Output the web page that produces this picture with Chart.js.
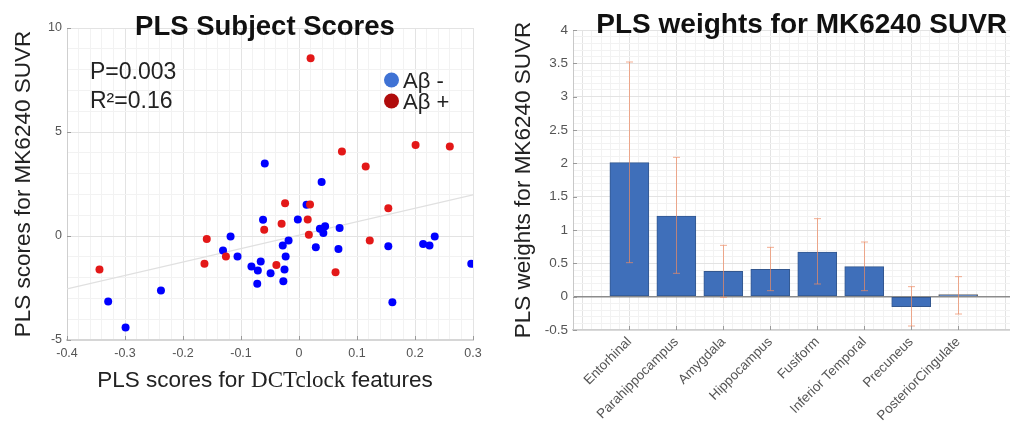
<!DOCTYPE html>
<html>
<head>
<meta charset="utf-8">
<script src="https://cdn.jsdelivr.net/npm/chart.js@4/dist/chart.umd.min.js"></script>
<style>
  html, body { margin: 0; padding: 0; background: #fff; overflow: hidden; width: 1010px; height: 432px; }
  #left { position: absolute; left: 0; top: 0; }
  #right { position: absolute; left: 500px; top: 0; }
</style>
</head>
<body>
<canvas id="left" width="500" height="432"></canvas>
<canvas id="right" width="530" height="432"></canvas>
<script>
// ---- subject scores: amyloid-negative group ----
const negX = [0.039, 0.013, -0.062, -0.002, -0.118, 0.036, 0.045, 0.042, 0.070, -0.018,
              -0.028, 0.029, 0.068, -0.131, -0.106, -0.023, -0.066, -0.082, -0.071, -0.025,
              -0.049, -0.072, -0.027, 0.154, 0.214, 0.225, 0.234, 0.297, 0.161, -0.238,
              -0.329, -0.299, -0.059];
const negY = [2.60, 1.50, 0.78, 0.79, -0.02, 0.35, 0.47, 0.15, 0.38, -0.22,
              -0.46, -0.54, -0.62, -0.70, -0.99, -0.99, -1.23, -1.47, -1.66, -1.61,
              -1.79, -2.30, -2.17, -0.49, -0.38, -0.46, -0.02, -1.34, -3.18, -2.62,
              -3.15, -4.40, 3.49];

// ---- subject scores: amyloid-positive group ----
const posX = [0.020, 0.074, 0.115, 0.201, 0.260, -0.024, 0.019, 0.154, -0.030, -0.060,
              0.015, 0.017, -0.159, 0.122, -0.126, -0.163, -0.039, 0.063, -0.344];
const posY = [8.55, 4.06, 3.34, 4.38, 4.30, 1.58, 1.51, 1.34, 0.59, 0.30,
              0.79, 0.06, -0.14, -0.22, -0.99, -1.34, -1.39, -1.74, -1.61];

// ---- least-squares fit line end points ----
const fitX = [-0.4, 0.3];
const fitY = [-2.54, 1.98];

// ---- regional PLS weights with their intervals ----
const regions = ['Entorhinal', 'Parahippocampus', 'Amygdala', 'Hippocampus',
                 'Fusiform', 'Inferior Temporal', 'Precuneus', 'PosteriorCingulate'];
const weights = [2.01, 1.21, 0.38, 0.41, 0.67, 0.45, -0.15, 0.01];
const ciLow   = [0.51, 0.35, -0.01, 0.09, 0.19, 0.09, -0.44, -0.26];
const ciHigh  = [3.52, 2.09, 0.77, 0.74, 1.17, 0.82, 0.15, 0.30];

const SANS = "'Liberation Sans', Arial, Helvetica, sans-serif";
const SERIF = "'Liberation Serif', 'Times New Roman', serif";
Chart.defaults.font.family = SANS;

const near = (v, step) => Math.abs(v / step - Math.round(v / step)) < 1e-6;
const gridColor = step => ctx => {
  const v = ctx.tick ? ctx.tick.value : 0;
  return near(v, step) ? '#e3e3e3' : '#f2f2f2';
};

// small inward tick marks on the axes (MATLAB style)
function innerTicks(xMajor, yMajor, len) {
  return {
    id: 'innerTicks',
    afterDatasetsDraw(chart) {
      const { ctx, chartArea: a, scales: { x, y } } = chart;
      ctx.save();
      ctx.strokeStyle = '#9a9a9a';
      ctx.lineWidth = 1;
      ctx.beginPath();
      x.ticks.forEach(t => {
        if (!xMajor(t.value)) return;
        const px = Math.round(x.getPixelForValue(t.value)) + 0.5;
        ctx.moveTo(px, a.bottom); ctx.lineTo(px, a.bottom - len);
      });
      y.ticks.forEach(t => {
        if (!yMajor(t.value)) return;
        const py = Math.round(y.getPixelForValue(t.value)) + 0.5;
        ctx.moveTo(a.left, py); ctx.lineTo(a.left + len, py);
      });
      ctx.stroke();
      ctx.restore();
    }
  };
}

// ---------- left panel: subject scores ----------
const scoreText = {
  id: 'scoreText',
  afterDraw(chart) {
    const ctx = chart.ctx;
    ctx.save();
    ctx.fillStyle = '#111';
    ctx.textBaseline = 'alphabetic';
    ctx.textAlign = 'center';
    ctx.font = 'bold 27.5px ' + SANS;
    ctx.fillText('PLS Subject Scores', 265, 35);

    ctx.textAlign = 'left';
    ctx.fillStyle = '#222';
    ctx.font = '23px ' + SANS;
    ctx.fillText('P=0.003', 90, 79);
    ctx.fillText('R\u00B2=0.16', 90, 108);

    // legend
    const legendRows = [
      { ds: chart.data.datasets[0], y: 80 },
      { ds: chart.data.datasets[1], y: 101 }
    ];
    legendRows.forEach(r => {
      ctx.beginPath();
      ctx.fillStyle = r.ds.legendColor;
      ctx.arc(391.5, r.y, 7.5, 0, Math.PI * 2);
      ctx.fill();
      ctx.fillStyle = '#222';
      ctx.font = '22px ' + SANS;
      ctx.fillText(r.ds.label, 403, r.y + 8);
    });

    // x-axis title with the serif feature name
    const parts = [
      { t: 'PLS scores for ', f: '22.5px ' + SANS },
      { t: 'DCTclock', f: '23px ' + SERIF },
      { t: ' features', f: '22.5px ' + SANS }
    ];
    let total = 0;
    parts.forEach(p => { ctx.font = p.f; p.w = ctx.measureText(p.t).width; total += p.w; });
    let x0 = 265 - total / 2;
    ctx.fillStyle = '#222';
    parts.forEach(p => { ctx.font = p.f; ctx.fillText(p.t, x0, 387); x0 += p.w; });
    ctx.restore();
  }
};

new Chart(document.getElementById('left'), {
  type: 'scatter',
  data: {
    datasets: [
      {
        label: 'A\u03B2 -',
        data: negX.map((x, i) => ({ x, y: negY[i] })),
        backgroundColor: '#0000ff', borderColor: '#0000ff',
        pointRadius: 4, borderWidth: 0, order: 1,
        legendColor: '#3f72d4'
      },
      {
        label: 'A\u03B2 +',
        data: posX.map((x, i) => ({ x, y: posY[i] })),
        backgroundColor: '#e31818', borderColor: '#e31818',
        pointRadius: 4, borderWidth: 0, order: 0,
        legendColor: '#b00c0c'
      },
      {
        type: 'line',
        label: 'fit',
        data: fitX.map((x, i) => ({ x, y: fitY[i] })),
        borderColor: '#e0e0e0', borderWidth: 1.2,
        pointRadius: 0, fill: false, order: 2
      }
    ]
  },
  options: {
    responsive: false, animation: false, devicePixelRatio: 1,
    layout: { padding: { top: 28, right: 27, left: 0, bottom: 0 } },
    plugins: { legend: { display: false }, tooltip: { enabled: false } },
    scales: {
      x: {
        type: 'linear', min: -0.4, max: 0.3,
        afterFit: s => { s.height = 92; },
        ticks: {
          stepSize: 0.02, maxTicksLimit: 1000, autoSkip: false, maxRotation: 0,
          padding: 6, color: '#555', font: { size: 12.5 },
          callback: v => near(v, 0.1) ? String(Math.round(v * 10) / 10) : ''
        },
        grid: { drawTicks: false, color: gridColor(0.1) },
        border: { color: '#d6d6d6', width: 2 }
      },
      y: {
        type: 'linear', min: -5, max: 10,
        afterFit: s => { s.width = 67; },
        ticks: {
          stepSize: 1, maxTicksLimit: 1000, autoSkip: false,
          padding: 5, color: '#555', font: { size: 12.5 },
          callback: v => near(v, 5) ? String(Math.round(v)) : ''
        },
        grid: { drawTicks: false, color: gridColor(5) },
        border: { color: '#cfcfcf', width: 1 },
        title: {
          display: true, text: 'PLS scores for MK6240 SUVR',
          color: '#222', font: { size: 22.5 }, padding: { top: 10.5, bottom: 0 }
        }
      }
    }
  },
  plugins: [scoreText, innerTicks(v => near(v, 0.1), v => near(v, 5), 4)]
});

// ---------- right panel: regional weights ----------
const weightText = {
  id: 'weightText',
  afterDraw(chart) {
    const ctx = chart.ctx;
    ctx.save();
    ctx.fillStyle = '#111';
    ctx.textAlign = 'center';
    ctx.textBaseline = 'alphabetic';
    ctx.font = 'bold 28px ' + SANS;
    ctx.fillText('PLS weights for MK6240 SUVR', 301.7, 33);
    ctx.restore();
  }
};

const intervalBars = {
  id: 'intervalBars',
  afterDatasetsDraw(chart) {
    const { ctx, scales: { x, y } } = chart;
    ctx.save();
    ctx.strokeStyle = 'rgba(238, 140, 100, 0.7)';
    ctx.lineWidth = 1;
    regions.forEach((r, i) => {
      const px = Math.round(x.getPixelForValue(i + 1)) + 0.5;
      const lo = y.getPixelForValue(ciLow[i]);
      const hi = y.getPixelForValue(ciHigh[i]);
      ctx.beginPath();
      ctx.moveTo(px, lo); ctx.lineTo(px, hi);
      ctx.moveTo(px - 3.5, lo); ctx.lineTo(px + 3.5, lo);
      ctx.moveTo(px - 3.5, hi); ctx.lineTo(px + 3.5, hi);
      ctx.stroke();
    });
    ctx.restore();
  }
};

new Chart(document.getElementById('right'), {
  type: 'bar',
  data: {
    datasets: [{
      label: 'PLS weight',
      data: weights.map((w, i) => ({ x: i + 1, y: w })),
      backgroundColor: '#3f6fba',
      borderColor: ctx => (ctx.raw && Math.abs(ctx.raw.y) < 0.05) ? '#666666' : '#33578f',
      borderWidth: 1,
      borderSkipped: false,
      minBarLength: 2,
      barThickness: 39
    }]
  },
  options: {
    responsive: false, animation: false, devicePixelRatio: 1,
    layout: { padding: { top: 30, right: 11.3, left: 0, bottom: 0 } },
    plugins: { legend: { display: false }, tooltip: { enabled: false } },
    scales: {
      x: {
        type: 'linear', min: -0.2, max: 9.2, offset: false,
        afterFit: s => { s.height = 102; },
        ticks: {
          stepSize: 0.2, maxTicksLimit: 1000, autoSkip: false,
          minRotation: 45, maxRotation: 45, padding: 4,
          color: '#555', font: { size: 13.5 },
          callback: v => {
            const k = Math.round(v);
            return (near(v, 1) && k >= 1 && k <= regions.length) ? regions[k - 1] : '';
          }
        },
        grid: { drawTicks: false, offset: false, color: gridColor(1) },
        border: { color: '#cfcfcf', width: 1.5 }
      },
      y: {
        type: 'linear', min: -0.5, max: 4,
        afterFit: s => { s.width = 73; },
        ticks: {
          stepSize: 0.1, maxTicksLimit: 1000, autoSkip: false,
          padding: 5, color: '#555', font: { size: 13.5 },
          callback: v => near(v, 0.5) ? String(Math.round(v * 2) / 2) : ''
        },
        grid: {
          drawTicks: false,
          color: ctx => {
            const v = ctx.tick ? ctx.tick.value : 1;
            if (Math.abs(v) < 1e-9) return '#8c8c8c';
            return near(v, 0.5) ? '#e3e3e3' : '#f2f2f2';
          },
          lineWidth: ctx => (ctx.tick && Math.abs(ctx.tick.value) < 1e-9) ? 1.4 : 1
        },
        border: { color: '#c8c8c8', width: 1 },
        title: {
          display: true, text: 'PLS weights for MK6240 SUVR',
          color: '#222', font: { size: 22.5 }, padding: { top: 10.5, bottom: 0 }
        }
      }
    }
  },
  plugins: [weightText, intervalBars, innerTicks(v => near(v, 1) && v > 0.5 && v < 8.5, v => near(v, 0.5), 4)]
});
</script>
</body>
</html>
